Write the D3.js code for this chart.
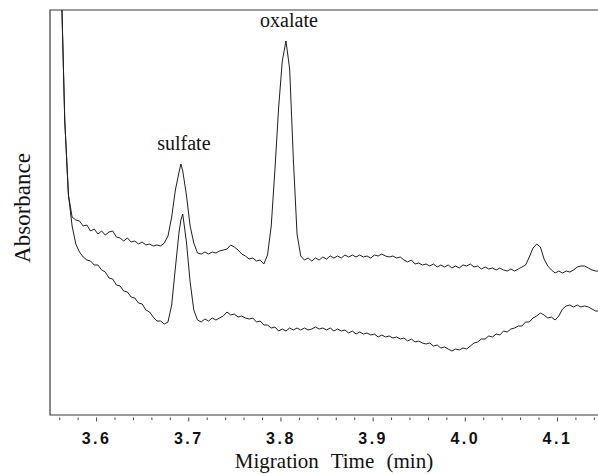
<!DOCTYPE html>
<meta charset="utf-8">
<script src="https://cdn.jsdelivr.net/npm/d3@7/dist/d3.min.js"></script>
<style>
    body { margin: 0; background: #fff; }
    .trace { fill: none; stroke: #1e1e1e; stroke-width: 1px; stroke-linejoin: round; }
    .frame { stroke: #3a3a3a; stroke-width: 1.2px; fill: none; }
    .peak-label, .axis-title { font-family: "Liberation Serif", "Times New Roman", serif; fill: #111; }
</style>
<body>
<script>

// migration time (min), shared sampling for both electropherograms
var times = [
    3.550, 3.554, 3.558, 3.562, 3.566, 3.570, 3.574, 3.578, 3.582, 3.586,
    3.590, 3.594, 3.598, 3.602, 3.606, 3.610, 3.614, 3.618, 3.622, 3.626,
    3.630, 3.634, 3.638, 3.642, 3.646, 3.650, 3.654, 3.658, 3.662, 3.666,
    3.670, 3.674, 3.678, 3.682, 3.686, 3.690, 3.692, 3.694, 3.698, 3.702, 3.706,
    3.710, 3.714, 3.718, 3.722, 3.726, 3.730, 3.734, 3.738, 3.742, 3.746,
    3.750, 3.754, 3.758, 3.762, 3.766, 3.770, 3.774, 3.778, 3.782, 3.786,
    3.790, 3.794, 3.798, 3.802, 3.806, 3.810, 3.814, 3.818, 3.822, 3.826,
    3.830, 3.834, 3.838, 3.842, 3.846, 3.850, 3.854, 3.858, 3.862, 3.866,
    3.870, 3.874, 3.878, 3.882, 3.886, 3.890, 3.894, 3.898, 3.902, 3.906,
    3.910, 3.914, 3.918, 3.922, 3.926, 3.930, 3.934, 3.938, 3.942, 3.946,
    3.950, 3.954, 3.958, 3.962, 3.966, 3.970, 3.974, 3.978, 3.982, 3.986,
    3.990, 3.994, 3.998, 4.002, 4.006, 4.010, 4.014, 4.018, 4.022, 4.026,
    4.030, 4.034, 4.038, 4.042, 4.046, 4.050, 4.054, 4.058, 4.062, 4.066,
    4.070, 4.074, 4.078, 4.082, 4.086, 4.090, 4.094, 4.098, 4.102, 4.106,
    4.110, 4.114, 4.118, 4.122, 4.126, 4.130, 4.134, 4.138, 4.142, 4.146
];

// absorbance (arbitrary units), trace with sulfate + oxalate
var upperTrace = [
    900, 800, 650, 440, 295, 220, 198, 195, 194, 189,
    190, 184, 186, 181, 184, 180, 183, 184, 178, 177,
    174, 177, 173, 174, 171, 173, 170, 171, 169, 170,
    169, 172, 179, 198, 225, 243, 251, 244, 220, 189, 172,
    162, 161, 163, 161, 163, 162, 164, 165, 166, 170,
    168, 165, 161, 159, 156, 157, 154, 155, 151, 160,
    189, 245, 307, 354, 374, 346, 256, 181, 159, 155,
    157, 154, 157, 155, 158, 156, 159, 157, 159, 157,
    160, 158, 160, 158, 160, 158, 159, 157, 160, 159,
    161, 159, 158, 159, 157, 158, 155, 153, 155, 151,
    152, 150, 151, 149, 151, 148, 150, 148, 150, 147,
    149, 147, 150, 149, 151, 148, 149, 146, 148, 146,
    147, 145, 147, 145, 144, 146, 144, 146, 148, 150,
    158, 167, 171, 168, 156, 149, 145, 142, 144, 142,
    144, 143, 145, 148, 149, 149, 147, 145, 144, 144
];

// absorbance (arbitrary units), trace with sulfate only
var lowerTrace = [
    900, 800, 650, 440, 295, 220, 189, 171, 163, 158,
    155, 154, 150, 150, 145, 143, 137, 136, 130, 129,
    124, 123, 118, 117, 112, 111, 105, 103, 98, 94,
    94, 91, 93, 110, 147, 183, 195, 201, 173, 133, 105,
    95, 93, 96, 94, 97, 95, 97, 99, 103, 100,
    101, 98, 99, 97, 96, 97, 93, 94, 90, 90,
    87, 88, 84, 86, 84, 87, 85, 87, 85, 87,
    85, 86, 88, 86, 87, 85, 87, 84, 86, 84,
    85, 82, 84, 81, 83, 81, 82, 80, 81, 78,
    80, 78, 79, 77, 78, 76, 77, 74, 76, 73,
    74, 72, 71, 72, 69, 70, 67, 68, 66, 64,
    66, 65, 67, 66, 69, 72, 73, 76, 76, 79,
    78, 81, 80, 84, 83, 86, 87, 89, 89, 93,
    93, 97, 99, 102, 100, 97, 98, 95, 99, 106,
    109, 110, 108, 110, 108, 109, 108, 106, 104, 104
];

var majorTicks = [3.6, 3.7, 3.8, 3.9, 4.0, 4.1];
var minorTicks = [3.56, 3.58, 3.62, 3.64, 3.66, 3.68, 3.72, 3.74, 3.76, 3.78,
    3.82, 3.84, 3.86, 3.88, 3.92, 3.94, 3.96, 3.98, 4.02, 4.04, 4.06, 4.08,
    4.12, 4.14];

var peakNames = ["sulfate", "oxalate"];
var peakTimes = [3.692, 3.806];
var peakHeights = [251, 374];

var width = 598,
    height = 474;
var plotLeft = 50, plotRight = 598, plotTop = 10, plotBottom = 415;

var x = d3.scaleLinear().domain([3.55, 4.1445]).range([plotLeft, plotRight]);
var y = d3.scaleLinear().domain([0, 405]).range([plotBottom, plotTop]);

var svg = d3.select("body").append("svg")
    .attr("width", width)
    .attr("height", height);

svg.append("clipPath").attr("id", "plot")
    .append("rect")
    .attr("x", plotLeft).attr("y", plotTop)
    .attr("width", plotRight - plotLeft).attr("height", plotBottom - plotTop);

// frame: top, left and bottom only
svg.append("path")
    .attr("class", "frame")
    .attr("d", "M" + plotRight + "," + plotTop + "H" + plotLeft + "V" + plotBottom + "H" + plotRight);

var line = d3.line()
    .x(function (d, i) { return x(times[i]); })
    .y(function (d) { return y(d); });

var traces = svg.append("g").attr("clip-path", "url(#plot)");
[lowerTrace, upperTrace].forEach(function (t) {
    traces.append("path")
        .attr("class", "trace")
        .attr("d", line(t));
});

// ticks hang a little below the axis line
svg.append("g")
    .attr("transform", "translate(0," + (plotBottom + 2.5) + ")")
    .call(d3.axisBottom(x).tickValues(minorTicks).tickSize(2.5).tickFormat(""))
    .call(function (g) { g.select(".domain").remove(); g.selectAll("line").attr("stroke", "#444"); });

var majorAxis = svg.append("g")
    .attr("transform", "translate(0," + (plotBottom + 2.5) + ")")
    .call(d3.axisBottom(x).tickValues(majorTicks).tickSize(4).tickPadding(11).tickFormat(d3.format(".1f")));
majorAxis.select(".domain").remove();
majorAxis.selectAll("line").attr("stroke", "#444");
majorAxis.selectAll("text")
    .attr("fill", "#111")
    .attr("dx", 0)
    .style("font-family", "'Liberation Sans', Arial, sans-serif")
    .style("font-weight", "bold")
    .style("font-size", "16px")
    .style("letter-spacing", "2.5px");

svg.append("text")
    .attr("class", "axis-title")
    .attr("x", 334)
    .attr("y", 468)
    .attr("text-anchor", "middle")
    .style("font-size", "21px")
    .style("word-spacing", "7px")
    .text("Migration Time (min)");

svg.append("text")
    .attr("class", "axis-title")
    .attr("transform", "translate(30,208) rotate(-90)")
    .attr("text-anchor", "middle")
    .style("font-size", "23px")
    .text("Absorbance");

svg.selectAll(".peak-label")
    .data(peakNames)
    .enter()
    .append("text")
    .attr("class", "peak-label")
    .attr("x", function (d, i) { return x(peakTimes[i]) + 3; })
    .attr("y", function (d, i) { return y(peakHeights[i]) - 14; })
    .attr("text-anchor", "middle")
    .style("font-size", "20px")
    .text(function (d) { return d; });

</script>
</body>
